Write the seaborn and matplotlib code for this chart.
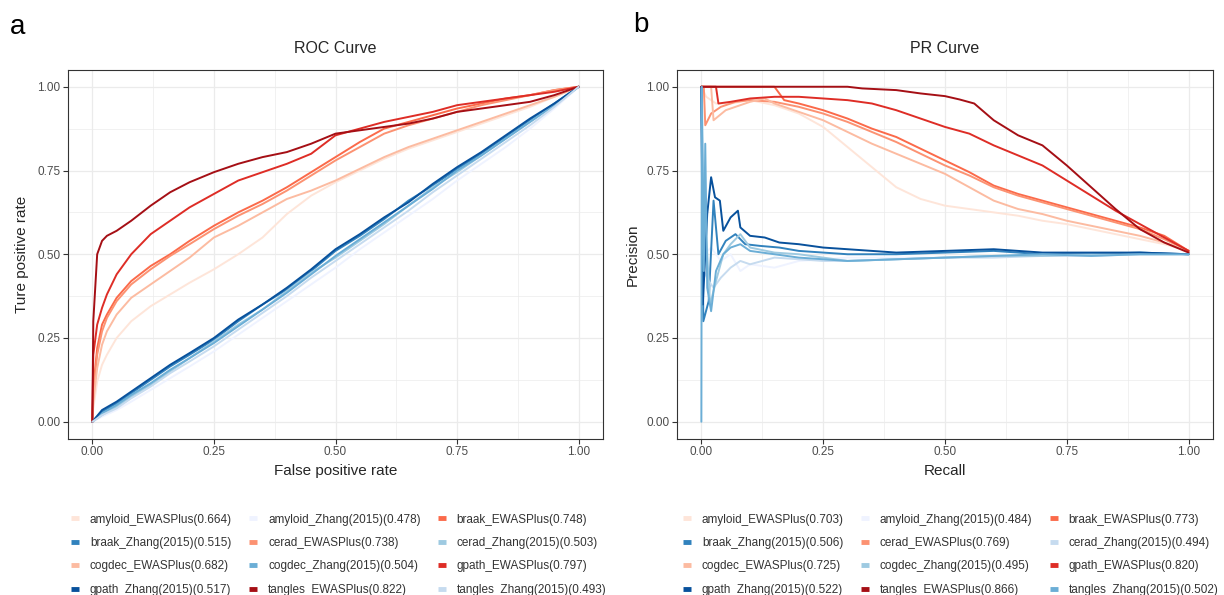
import pandas as pd
import seaborn as sns
import matplotlib.pyplot as plt
from matplotlib.lines import Line2D

# ---- data ----
labels_roc = ["amyloid_EWASPlus(0.664)", "amyloid_Zhang(2015)(0.478)", "braak_EWASPlus(0.748)",
              "braak_Zhang(2015)(0.515)", "cerad_EWASPlus(0.738)", "cerad_Zhang(2015)(0.503)",
              "cogdec_EWASPlus(0.682)", "cogdec_Zhang(2015)(0.504)", "gpath_EWASPlus(0.797)",
              "gpath_Zhang(2015)(0.517)", "tangles_EWASPlus(0.822)", "tangles_Zhang(2015)(0.493)"]
labels_pr = ["amyloid_EWASPlus(0.703)", "amyloid_Zhang(2015)(0.484)", "braak_EWASPlus(0.773)",
             "braak_Zhang(2015)(0.506)", "cerad_EWASPlus(0.769)", "cerad_Zhang(2015)(0.494)",
             "cogdec_EWASPlus(0.725)", "cogdec_Zhang(2015)(0.495)", "gpath_EWASPlus(0.820)",
             "gpath_Zhang(2015)(0.522)", "tangles_EWASPlus(0.866)", "tangles_Zhang(2015)(0.502)"]

# colours (Reds / Blues brewer, ranked by AUC)
colors_roc = ["#fee5d9", "#eff3ff", "#fb6a4a", "#3182bd", "#fc9272", "#9ecae1",
              "#fcbba1", "#6baed6", "#de2d26", "#08519c", "#a50f15", "#c6dbef"]
colors_pr = ["#fee5d9", "#eff3ff", "#fb6a4a", "#3182bd", "#fc9272", "#c6dbef",
             "#fcbba1", "#9ecae1", "#de2d26", "#08519c", "#a50f15", "#6baed6"]

# ROC, EWASPlus curves (shared fpr grid)
fpr_ewas = [0, 0.002, 0.01, 0.02, 0.03, 0.05, 0.08, 0.12, 0.16, 0.2, 0.25, 0.3, 0.35,
            0.4, 0.45, 0.5, 0.55, 0.6, 0.65, 0.7, 0.75, 0.8, 0.85, 0.9, 0.95, 1.0]
tpr_amyloid_e = [0, 0.04, 0.12, 0.17, 0.20, 0.25, 0.30, 0.345, 0.38, 0.415, 0.455, 0.50, 0.55,
                 0.62, 0.675, 0.715, 0.75, 0.785, 0.815, 0.84, 0.865, 0.89, 0.915, 0.94, 0.97, 1.0]
tpr_braak_e = [0, 0.10, 0.22, 0.29, 0.32, 0.37, 0.42, 0.465, 0.50, 0.54, 0.585, 0.625, 0.66,
               0.70, 0.745, 0.79, 0.835, 0.875, 0.895, 0.915, 0.935, 0.95, 0.965, 0.975, 0.99, 1.0]
tpr_cerad_e = [0, 0.08, 0.20, 0.27, 0.31, 0.36, 0.41, 0.455, 0.495, 0.53, 0.575, 0.615, 0.65,
               0.69, 0.735, 0.78, 0.82, 0.86, 0.885, 0.905, 0.925, 0.945, 0.96, 0.975, 0.99, 1.0]
tpr_cogdec_e = [0, 0.06, 0.16, 0.23, 0.27, 0.32, 0.37, 0.41, 0.45, 0.49, 0.55, 0.585, 0.625,
                0.665, 0.69, 0.72, 0.755, 0.79, 0.82, 0.845, 0.87, 0.895, 0.92, 0.945, 0.97, 1.0]
tpr_gpath_e = [0, 0.20, 0.29, 0.34, 0.38, 0.44, 0.50, 0.56, 0.60, 0.64, 0.68, 0.72, 0.745,
               0.77, 0.80, 0.855, 0.875, 0.895, 0.91, 0.925, 0.945, 0.955, 0.965, 0.975, 0.985, 1.0]
tpr_tangles_e = [0, 0.30, 0.50, 0.54, 0.555, 0.57, 0.60, 0.645, 0.685, 0.715, 0.745, 0.77, 0.79,
                 0.805, 0.83, 0.86, 0.87, 0.88, 0.89, 0.905, 0.925, 0.935, 0.945, 0.955, 0.975, 1.0]

# ROC, Zhang(2015) curves (shared fpr grid)
fpr_zhang = [0, 0.02, 0.05, 0.08, 0.12, 0.16, 0.2, 0.25, 0.3, 0.35, 0.4, 0.45,
             0.5, 0.55, 0.6, 0.65, 0.7, 0.75, 0.8, 0.85, 0.9, 0.95, 1.0]
tpr_amyloid_z = [0, 0.015, 0.035, 0.06, 0.095, 0.13, 0.165, 0.21, 0.26, 0.31, 0.36, 0.41,
                 0.46, 0.515, 0.565, 0.615, 0.665, 0.72, 0.77, 0.82, 0.875, 0.935, 1.0]
tpr_braak_z = [0, 0.03, 0.055, 0.085, 0.125, 0.165, 0.20, 0.245, 0.30, 0.35, 0.395, 0.45,
               0.51, 0.555, 0.605, 0.66, 0.705, 0.755, 0.80, 0.85, 0.90, 0.95, 1.0]
tpr_cerad_z = [0, 0.02, 0.045, 0.075, 0.11, 0.15, 0.19, 0.24, 0.29, 0.335, 0.39, 0.445,
               0.49, 0.54, 0.59, 0.645, 0.70, 0.745, 0.795, 0.845, 0.895, 0.945, 1.0]
tpr_cogdec_z = [0, 0.025, 0.05, 0.08, 0.115, 0.155, 0.19, 0.235, 0.285, 0.335, 0.385, 0.44,
                0.495, 0.545, 0.595, 0.645, 0.695, 0.75, 0.795, 0.845, 0.895, 0.945, 1.0]
tpr_gpath_z = [0, 0.035, 0.06, 0.09, 0.13, 0.17, 0.205, 0.25, 0.305, 0.35, 0.40, 0.455,
               0.515, 0.56, 0.61, 0.655, 0.71, 0.76, 0.805, 0.855, 0.905, 0.95, 1.0]
tpr_tangles_z = [0, 0.02, 0.04, 0.07, 0.105, 0.145, 0.18, 0.225, 0.275, 0.325, 0.375, 0.43,
                 0.48, 0.53, 0.58, 0.63, 0.685, 0.735, 0.785, 0.835, 0.885, 0.94, 1.0]

# PR curves, EWASPlus
rec_amyloid_e = [0, 0.01, 0.03, 0.06, 0.1, 0.15, 0.2, 0.25, 0.3, 0.35, 0.4, 0.45, 0.5,
                 0.55, 0.6, 0.65, 0.7, 0.75, 0.8, 0.85, 0.9, 0.95, 1.0]
prec_amyloid_e = [1, 0.97, 0.95, 0.95, 0.96, 0.945, 0.92, 0.88, 0.82, 0.76, 0.70, 0.665, 0.645,
                  0.635, 0.625, 0.615, 0.60, 0.59, 0.575, 0.56, 0.545, 0.53, 0.51]
rec_braak_e = [0, 0.15, 0.17, 0.2, 0.25, 0.3, 0.35, 0.4, 0.45, 0.5, 0.55, 0.6, 0.65, 0.7,
               0.75, 0.8, 0.85, 0.9, 0.95, 1.0]
prec_braak_e = [1, 1, 0.96, 0.95, 0.93, 0.905, 0.875, 0.85, 0.815, 0.78, 0.745, 0.705, 0.68,
                0.66, 0.64, 0.62, 0.60, 0.58, 0.555, 0.51]
rec_cerad_e = [0, 0.005, 0.008, 0.02, 0.04, 0.07, 0.1, 0.15, 0.2, 0.25, 0.3, 0.35, 0.4, 0.45,
               0.5, 0.55, 0.6, 0.65, 0.7, 0.75, 0.8, 0.85, 0.9, 0.95, 1.0]
prec_cerad_e = [1, 1, 0.885, 0.92, 0.94, 0.955, 0.96, 0.955, 0.94, 0.92, 0.895, 0.865, 0.835,
                0.80, 0.765, 0.735, 0.70, 0.675, 0.655, 0.635, 0.615, 0.595, 0.575, 0.545, 0.51]
rec_cogdec_e = [0, 0.02, 0.025, 0.05, 0.1, 0.13, 0.15, 0.2, 0.25, 0.3, 0.35, 0.4, 0.45, 0.5,
                0.55, 0.6, 0.65, 0.7, 0.75, 0.8, 0.85, 0.9, 0.95, 1.0]
prec_cogdec_e = [1, 1, 0.90, 0.93, 0.955, 0.965, 0.95, 0.925, 0.90, 0.865, 0.83, 0.80, 0.77,
                 0.74, 0.70, 0.66, 0.635, 0.62, 0.60, 0.585, 0.57, 0.555, 0.535, 0.51]
rec_gpath_e = [0, 0.03, 0.035, 0.06, 0.1, 0.15, 0.2, 0.25, 0.3, 0.35, 0.4, 0.45, 0.5, 0.55,
               0.6, 0.65, 0.7, 0.75, 0.8, 0.85, 0.9, 0.95, 1.0]
prec_gpath_e = [1, 1, 0.95, 0.955, 0.965, 0.97, 0.97, 0.965, 0.96, 0.95, 0.93, 0.905, 0.88,
                0.86, 0.825, 0.795, 0.765, 0.72, 0.675, 0.63, 0.59, 0.55, 0.51]
rec_tangles_e = [0, 0.1, 0.2, 0.3, 0.33, 0.4, 0.45, 0.5, 0.53, 0.56, 0.6, 0.65, 0.7, 0.75,
                 0.8, 0.85, 0.9, 0.95, 1.0]
prec_tangles_e = [1, 1, 1, 1, 0.995, 0.99, 0.98, 0.972, 0.962, 0.95, 0.90, 0.855, 0.825,
                  0.765, 0.70, 0.635, 0.575, 0.535, 0.505]

# PR curves, Zhang(2015)
rec_amyloid_z = [0, 0.005, 0.02, 0.04, 0.06, 0.08, 0.1, 0.15, 0.2, 0.25, 0.3, 0.4, 0.5,
                 0.6, 0.7, 0.8, 0.9, 1.0]
prec_amyloid_z = [1, 0.5, 0.52, 0.48, 0.50, 0.45, 0.47, 0.46, 0.48, 0.485, 0.49, 0.49, 0.49,
                  0.495, 0.495, 0.50, 0.50, 0.50]
rec_braak_z = [0, 0.004, 0.015, 0.025, 0.035, 0.05, 0.07, 0.09, 0.12, 0.16, 0.2, 0.25, 0.3,
               0.4, 0.5, 0.6, 0.7, 0.8, 0.9, 1.0]
prec_braak_z = [1, 0.30, 0.36, 0.66, 0.50, 0.54, 0.56, 0.53, 0.525, 0.52, 0.51, 0.505, 0.50,
                0.50, 0.505, 0.51, 0.50, 0.50, 0.505, 0.50]
rec_cerad_z = [0, 0.005, 0.015, 0.025, 0.04, 0.06, 0.08, 0.1, 0.15, 0.2, 0.25, 0.3, 0.4,
               0.5, 0.6, 0.7, 0.8, 0.9, 1.0]
prec_cerad_z = [1, 0.45, 0.42, 0.40, 0.43, 0.46, 0.48, 0.47, 0.49, 0.485, 0.48, 0.48, 0.485,
                0.49, 0.49, 0.495, 0.495, 0.50, 0.50]
rec_cogdec_z = [0, 0.005, 0.01, 0.018, 0.03, 0.045, 0.06, 0.08, 0.1, 0.15, 0.2, 0.25, 0.3,
                0.4, 0.5, 0.6, 0.7, 0.8, 0.9, 1.0]
prec_cogdec_z = [1, 0.50, 0.55, 0.35, 0.42, 0.50, 0.53, 0.56, 0.52, 0.505, 0.50, 0.49, 0.48,
                 0.485, 0.49, 0.495, 0.495, 0.50, 0.50, 0.50]
rec_gpath_z = [0, 0.003, 0.012, 0.02, 0.028, 0.038, 0.045, 0.06, 0.075, 0.08, 0.1, 0.13,
               0.16, 0.2, 0.25, 0.3, 0.4, 0.5, 0.6, 0.7, 0.8, 0.9, 1.0]
prec_gpath_z = [1, 0.35, 0.62, 0.73, 0.67, 0.66, 0.57, 0.61, 0.63, 0.58, 0.555, 0.55, 0.535,
                0.53, 0.52, 0.515, 0.505, 0.51, 0.515, 0.505, 0.505, 0.505, 0.50]
rec_tangles_z = [0, 0.001, 0.005, 0.008, 0.012, 0.02, 0.03, 0.045, 0.06, 0.08, 0.1, 0.15,
                 0.2, 0.25, 0.3, 0.4, 0.5, 0.6, 0.7, 0.8, 0.9, 1.0]
prec_tangles_z = [0, 1.0, 0.45, 0.83, 0.40, 0.33, 0.45, 0.50, 0.52, 0.53, 0.51, 0.50,
                  0.49, 0.485, 0.48, 0.485, 0.49, 0.495, 0.50, 0.495, 0.50, 0.50]

roc_curves = [(fpr_ewas, tpr_amyloid_e), (fpr_zhang, tpr_amyloid_z), (fpr_ewas, tpr_braak_e),
              (fpr_zhang, tpr_braak_z), (fpr_ewas, tpr_cerad_e), (fpr_zhang, tpr_cerad_z),
              (fpr_ewas, tpr_cogdec_e), (fpr_zhang, tpr_cogdec_z), (fpr_ewas, tpr_gpath_e),
              (fpr_zhang, tpr_gpath_z), (fpr_ewas, tpr_tangles_e), (fpr_zhang, tpr_tangles_z)]
pr_curves = [(rec_amyloid_e, prec_amyloid_e), (rec_amyloid_z, prec_amyloid_z),
             (rec_braak_e, prec_braak_e), (rec_braak_z, prec_braak_z),
             (rec_cerad_e, prec_cerad_e), (rec_cerad_z, prec_cerad_z),
             (rec_cogdec_e, prec_cogdec_e), (rec_cogdec_z, prec_cogdec_z),
             (rec_gpath_e, prec_gpath_e), (rec_gpath_z, prec_gpath_z),
             (rec_tangles_e, prec_tangles_e), (rec_tangles_z, prec_tangles_z)]


def long_df(labels, curves):
    parts = [pd.DataFrame({"x": xs, "y": ys, "model": lab}) for lab, (xs, ys) in zip(labels, curves)]
    return pd.concat(parts, ignore_index=True)


sns.set_theme(style="white")
plt.rcParams["font.family"] = ["Liberation Sans", "DejaVu Sans"]

W, H = 1224, 595
fig = plt.figure(figsize=(W / 100, H / 100), dpi=100)
ax1 = fig.add_axes([68 / W, 1 - 438.5 / H, 535 / W, 368.5 / H])
ax2 = fig.add_axes([677 / W, 1 - 438.5 / H, 536 / W, 368.5 / H])

ticks = [0, 0.25, 0.5, 0.75, 1.0]
tick_labels = ["0.00", "0.25", "0.50", "0.75", "1.00"]
minor = [0.125, 0.375, 0.625, 0.875]


def style_panel(ax, title, xlabel, ylabel, ylabelpad):
    ax.set_xlim(-0.05, 1.05)
    ax.set_ylim(-0.05, 1.05)
    ax.set_xticks(ticks)
    ax.set_xticklabels(tick_labels)
    ax.set_yticks(ticks)
    ax.set_yticklabels(tick_labels)
    ax.set_xticks(minor, minor=True)
    ax.set_yticks(minor, minor=True)
    ax.grid(which="major", color="#ebebeb", lw=0.9)
    ax.grid(which="minor", color="#ebebeb", lw=0.5)
    ax.set_axisbelow(True)
    for s in ax.spines.values():
        s.set_color("#333333")
        s.set_linewidth(0.8)
    ax.tick_params(which="major", length=3.5, width=0.8, color="#333333",
                   labelcolor="#4d4d4d", labelsize=8.5, pad=2, bottom=True, left=True)
    ax.tick_params(which="minor", length=0)
    ax.set_title(title, fontsize=11.5, pad=12)
    ax.set_xlabel(xlabel, fontsize=11, labelpad=4)
    ax.set_ylabel(ylabel, fontsize=11, labelpad=ylabelpad)


for ax, labels, curves, colors in [(ax1, labels_roc, roc_curves, colors_roc),
                                   (ax2, labels_pr, pr_curves, colors_pr)]:
    df = long_df(labels, curves)
    sns.lineplot(data=df, x="x", y="y", hue="model", hue_order=labels,
                 palette=dict(zip(labels, colors)), estimator=None, sort=False,
                 lw=1.4, legend=False, ax=ax)

style_panel(ax1, "ROC Curve", "False positive rate", "Ture positive rate", 6)
style_panel(ax2, "PR Curve", "Recall", "Precision", 5)

# legends, filled row by row like ggplot
order = [0, 3, 6, 9, 1, 4, 7, 10, 2, 5, 8, 11]
for x0, labels, colors in [(71, labels_roc, colors_roc), (683, labels_pr, colors_pr)]:
    handles = [Line2D([], [], color=colors[i], lw=3.5, solid_capstyle="butt") for i in order]
    fig.legend(handles, [labels[i] for i in order], loc="upper left",
               bbox_to_anchor=(x0 / W, 1 - 513.5 / H), ncol=3, frameon=False,
               fontsize=8.5, handlelength=0.7, handletextpad=0.9, columnspacing=1.45,
               labelspacing=0.97, borderpad=0, borderaxespad=0, labelcolor="#333333")

fig.text(18 / W, 1 - 27 / H, "a", fontsize=20, ha="center", va="center", color="black")
fig.text(641 / W, 1 - 25 / H, "b", fontsize=20, ha="center", va="center", color="black")

fig.savefig("out.png", dpi=100, facecolor="white")
